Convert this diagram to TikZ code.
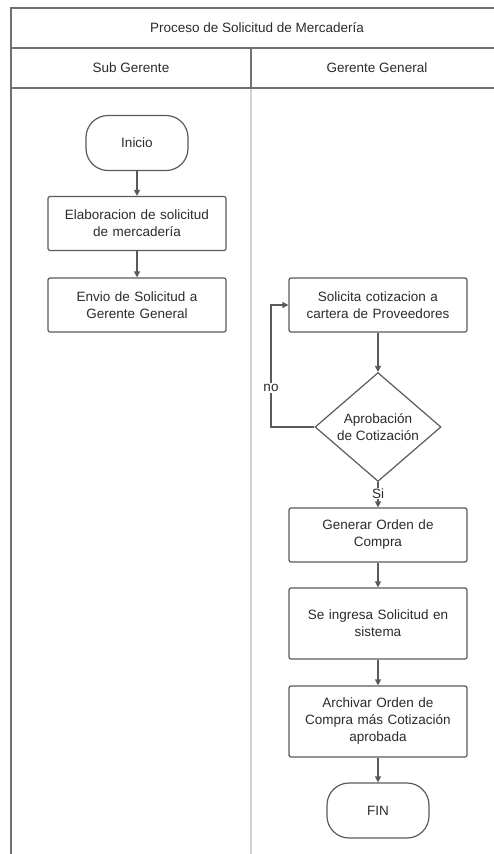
\documentclass[tikz,border=0pt]{standalone}
\usepackage{fontspec}
\setmainfont{Liberation Sans}
\usetikzlibrary{shapes.geometric,arrows.meta}
\definecolor{lineg}{HTML}{5A5A5A}
\definecolor{frameg}{HTML}{707070}
\definecolor{lightg}{HTML}{D2D2D2}
\definecolor{txtg}{HTML}{2A2A2A}
\tikzset{
  every node/.style={font=\fontsize{13.5}{17}\selectfont, text=txtg},
  procbox/.style={draw=lineg, line width=1.2pt, rounded corners=2pt, minimum width=178pt, minimum height=54pt, text width=170pt, align=center, inner sep=0pt},
  termbox/.style={draw=lineg, line width=1.2pt, rounded corners=22pt, minimum width=102pt, minimum height=55pt, align=center},
  decbox/.style={draw=lineg, line width=1.2pt, diamond, inner sep=0pt, minimum width=126pt, minimum height=107pt, align=center},
  flow/.style={draw=lineg, line width=1.2pt, -{Triangle[length=6pt,width=6pt]}},
  frame/.style={draw=frameg, line width=1.4pt},
  lbl/.style={fill=white, inner sep=1pt}
}
\begin{document}
\begin{tikzpicture}[x=1pt,y=-1pt]
\useasboundingbox (0,0) rectangle (493,854);
% pool frame
\draw[frame] (11,8) rectangle (503,48);
\draw[frame] (11,48) -- (503,48);
\draw[frame] (11,88) -- (503,88);
\draw[frame] (11,8) -- (11,870);
\draw[frame] (251,48) -- (251,88);
\draw[draw=lightg, line width=1.6pt] (251,89) -- (251,870);
\node (title) at (257,28) {Proceso de Solicitud de Mercadería};
\node (lane1) at (131,68) {Sub Gerente};
\node (lane2) at (377,68) {Gerente General};
% left lane
\node[termbox] (inicio) at (137,143) {Inicio};
\node[procbox] (elab) at (137,223.5) {Elaboracion de solicitud\\de mercadería};
\node[procbox] (envio) at (137,305) {Envio de Solicitud a\\Gerente General};
% right lane
\node[procbox] (sol) at (378,305) {Solicita cotizacion a\\cartera de Proveedores};
\node[decbox] (dec) at (378,427) {Aprobación\\de Cotización};
\node[procbox] (gen) at (378,535) {Generar Orden de\\Compra};
\node[procbox, minimum height=71pt] (ing) at (378,623.5) {Se ingresa Solicitud en\\sistema};
\node[procbox, minimum height=71pt] (arch) at (378,721.5) {Archivar Orden de\\Compra más Cotización\\aprobada};
\node[termbox] (fin) at (378,810.5) {FIN};
% connectors
\draw[flow] (inicio) -- (elab);
\draw[flow] (elab) -- (envio);
\draw[flow] (sol) -- (dec);
\draw[flow] (dec) -- node[lbl, pos=0.45] (si) {Si} (gen);
\draw[flow] (gen) -- (ing);
\draw[flow] (ing) -- (arch);
\draw[flow] (arch) -- (fin);
\coordinate (c1) at (271,427);
\coordinate (c2) at (271,305);
\draw[flow] (dec.west) -- (c1) -- node[lbl, pos=0.32] (no) {no} (c2) -- (sol.west);
\end{tikzpicture}
\end{document}
